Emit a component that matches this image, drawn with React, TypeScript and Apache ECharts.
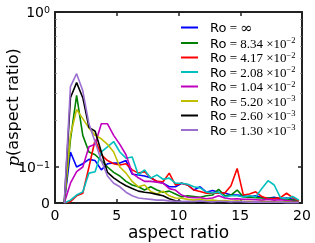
import React, { useEffect, useRef } from "react";
import * as echarts from "echarts";

// bin centres (aspect ratio)
const binCenters = [
  0.75, 1.25, 1.75, 2.25, 2.75, 3.25, 3.75, 4.25, 4.75, 5.25, 5.75, 6.25, 6.75,
  7.25, 7.75, 8.25, 8.75, 9.25, 9.75, 10.25, 10.75, 11.25, 11.75, 12.25, 12.75,
  13.25, 13.75, 14.25, 14.75, 15.25, 15.75, 16.25, 16.75, 17.25, 17.75, 18.25,
  18.75, 19.25, 19.75,
];

const pInf = [0, 0.125, 0.1, 0.105, 0.112, 0.11, 0.092, 0.105, 0.106, 0.106, 0.11, 0.08, 0.078, 0.075, 0.07, 0.06, 0.055, 0.045, 0.045, 0.055, 0.05, 0.036, 0.045, 0.03, 0.035, 0.03, 0.028, 0.022, 0.022, 0.02, 0.017, 0.02, 0.015, 0.013, 0.016, 0.012, 0.014, 0.01, 0.004];
const p834e2 = [0, 0.15, 0.29, 0.16, 0.125, 0.12, 0.11, 0.1, 0.085, 0.075, 0.06, 0.05, 0.045, 0.036, 0.045, 0.036, 0.03, 0.033, 0.025, 0.017, 0.02, 0.018, 0.016, 0.02, 0.022, 0.038, 0.02, 0.022, 0.036, 0.017, 0.016, 0.015, 0.014, 0.014, 0.013, 0.012, 0.01, 0.008, 0.004];
const p417e2 = [0, 0.004, 0.02, 0.027, 0.1, 0.15, 0.12, 0.11, 0.105, 0.103, 0.105, 0.092, 0.083, 0.087, 0.07, 0.06, 0.059, 0.083, 0.05, 0.055, 0.05, 0.036, 0.032, 0.027, 0.027, 0.027, 0.028, 0.048, 0.096, 0.022, 0.025, 0.031, 0.018, 0.012, 0.012, 0.015, 0.027, 0.015, 0.006];
const p208e2 = [0, 0.008, 0.022, 0.031, 0.083, 0.087, 0.125, 0.135, 0.146, 0.125, 0.114, 0.116, 0.078, 0.092, 0.069, 0.078, 0.066, 0.069, 0.055, 0.055, 0.052, 0.045, 0.042, 0.031, 0.028, 0.03, 0.017, 0.02, 0.02, 0.017, 0.02, 0.017, 0.04, 0.062, 0.05, 0.015, 0.012, 0.018, 0.008];
const p104e2 = [0, 0.055, 0.087, 0.1, 0.135, 0.14, 0.19, 0.19, 0.16, 0.14, 0.12, 0.083, 0.07, 0.06, 0.06, 0.058, 0.055, 0.04, 0.036, 0.022, 0.016, 0.015, 0.015, 0.012, 0.014, 0.02, 0.014, 0.011, 0.012, 0.01, 0.01, 0.009, 0.008, 0.01, 0.008, 0.009, 0.007, 0.005, 0.003];
const p520e3 = [0, 0.16, 0.235, 0.205, 0.178, 0.16, 0.152, 0.14, 0.125, 0.1, 0.083, 0.06, 0.045, 0.05, 0.032, 0.025, 0.033, 0.02, 0.014, 0.013, 0.01, 0.008, 0.01, 0.007, 0.008, 0.006, 0.007, 0.005, 0.006, 0.004, 0.004, 0.003, 0.004, 0.003, 0.003, 0.002, 0.003, 0.002, 0.002];
const p260e3 = [0, 0.28, 0.35, 0.28, 0.18, 0.17, 0.125, 0.085, 0.07, 0.058, 0.048, 0.04, 0.033, 0.03, 0.028, 0.024, 0.02, 0.012, 0.006, 0.004, 0.003, 0.003, 0.002, 0.002, 0.002, 0.002, 0.001, 0.002, 0.001, 0.001, 0.001, 0.001, 0.001, 0.001, 0.001, 0.001, 0.001, 0.001, 0.001];
const p130e3 = [0, 0.33, 0.4, 0.31, 0.19, 0.145, 0.11, 0.075, 0.055, 0.045, 0.03, 0.02, 0.014, 0.012, 0.01, 0.008, 0.008, 0.006, 0.005, 0.004, 0.005, 0.004, 0.006, 0.004, 0.003, 0.005, 0.004, 0.003, 0.004, 0.003, 0.002, 0.003, 0.002, 0.002, 0.002, 0.002, 0.001, 0.001, 0.001];

const roMantissa = ["∞", "8.34", "4.17", "2.08", "1.04", "5.20", "2.60", "1.30"];
const roExponent = ["", "−2", "−2", "−2", "−2", "−3", "−3", "−3"];
const seriesValues = [pInf, p834e2, p417e2, p208e2, p104e2, p520e3, p260e3, p130e3];
const seriesColors = ["#0000ff", "#008000", "#ff0000", "#00bfbf", "#bf00bf", "#bfbf00", "#000000", "#9b6fd0"];

const xTicks = [0, 5, 10, 15, 20];
const yTickLabels = ["0", "10^-1", "10^0"];

// symlog-like y scale: linear on [0, 0.1], logarithmic above
const LIN = 36 / 155;
const fy = (v: number) => (v <= 0.1 ? (LIN * v) / 0.1 : LIN + Math.log10(v / 0.1));
const yMajor = [0, LIN, LIN + 1];
const yMinor = [2, 3, 4, 5, 6, 7, 8, 9].map((k) => LIN + Math.log10(k));

const AX = "#222";

export default function App() {
  const ref = useRef<HTMLDivElement>(null);
  useEffect(() => {
    if (!ref.current) return;
    const chart = echarts.init(ref.current, undefined, { renderer: "svg" });
    const names = roMantissa.map((m, i) => (roExponent[i] ? `Ro = ${m} ×10^${roExponent[i]}` : `Ro = ${m}`));
    const yLabelFmt = (v: number) => {
      const i = yMajor.findIndex((t) => Math.abs(t - v) < 1e-6);
      const s = yTickLabels[i] ?? "";
      if (s.startsWith("10^")) return `{b|10}{s|${s.slice(3).replace("-", "−")}}`;
      return `{b|${s}}`;
    };
    const axisBase = {
      min: 0,
      axisLine: { show: true, onZero: false, lineStyle: { color: AX, width: 2 } },
      splitLine: { show: false },
    };
    const minorAxis = (position: string) => ({
      type: "value",
      min: 0,
      max: LIN + 1,
      position,
      axisLine: { show: false, onZero: false },
      splitLine: { show: false },
      axisTick: { show: true, inside: true, length: 2, customValues: yMinor, lineStyle: { color: "#888", width: 0.8 } },
      axisLabel: { show: false },
    });
    chart.setOption({
      animation: false,
      grid: { left: 55, top: 12, width: 247, height: 191, outerBoundsMode: "none", containLabel: false },
      xAxis: [
        {
          ...axisBase,
          type: "value",
          max: 20,
          interval: 5,
          position: "bottom",
          axisTick: { show: true, inside: true, length: 4, lineStyle: { color: AX, width: 1.5 } },
          axisLabel: { color: "#000", fontSize: 14, fontFamily: "DejaVu Sans", margin: 5, customValues: xTicks },
          name: "aspect ratio",
          nameLocation: "middle",
          nameGap: 20,
          nameMoveOverlap: false,
          nameTextStyle: { color: "#000", fontSize: 17, fontFamily: "DejaVu Sans", verticalAlign: "top" },
        },
        {
          ...axisBase,
          type: "value",
          max: 20,
          interval: 5,
          position: "top",
          axisTick: { show: true, inside: true, length: 4, lineStyle: { color: AX, width: 1.5 } },
          axisLabel: { show: false },
        },
      ],
      yAxis: [
        {
          ...axisBase,
          type: "value",
          max: LIN + 1,
          position: "left",
          axisTick: { show: true, inside: true, length: 4, customValues: yMajor, lineStyle: { color: AX, width: 1.5 } },
          axisLabel: {
            customValues: yMajor,
            formatter: yLabelFmt,
            margin: 5,
            rich: {
              b: { fontSize: 14, fontFamily: "DejaVu Sans", color: "#000", lineHeight: 16 },
              s: { fontSize: 9.5, fontFamily: "DejaVu Sans", color: "#000", verticalAlign: "top", lineHeight: 9 },
            },
          },
          name: "{i|p}(aspect ratio)",
          nameLocation: "middle",
          nameGap: 34,
          nameMoveOverlap: false,
          nameTextStyle: {
            rich: {
              i: { fontSize: 17, fontFamily: "DejaVu Serif", fontStyle: "italic", color: "#000" },
            },
            fontSize: 16,
            fontFamily: "DejaVu Sans",
            color: "#000",
          },
        },
        {
          ...axisBase,
          type: "value",
          max: LIN + 1,
          position: "right",
          axisTick: { show: true, inside: true, length: 4, customValues: yMajor, lineStyle: { color: AX, width: 1.5 } },
          axisLabel: { show: false },
        },
        minorAxis("left"),
        minorAxis("right"),
      ],
      legend: {
        orient: "vertical",
        left: 181,
        top: 20,
        itemWidth: 17,
        itemHeight: 2,
        itemGap: 0.5,
        icon: "rect",
        padding: 0,
        data: names,
        formatter: (name: string) => {
          const i = names.indexOf(name);
          const e = roExponent[i];
          return e
            ? `{sp|}{r|Ro}{m| = ${roMantissa[i]} ×10}{e|${e}}`
            : `{sp|}{r|Ro}{m| = }{inf|∞}`;
        },
        textStyle: {
          rich: {
            sp: { width: 7, lineHeight: 15 },
            r: { fontSize: 13, fontFamily: "DejaVu Sans", color: "#000", lineHeight: 15 },
            m: { fontSize: 13, fontFamily: "Liberation Serif", color: "#000", lineHeight: 15 },
            inf: { fontSize: 15, fontFamily: "DejaVu Serif", color: "#000", lineHeight: 15 },
            e: { fontSize: 8.5, fontFamily: "Liberation Serif", color: "#000", verticalAlign: "top", lineHeight: 8 },
          },
        },
      },
      series: seriesValues.map((vals, i) => ({
        name: names[i],
        type: "line",
        xAxisIndex: 0,
        yAxisIndex: 0,
        showSymbol: false,
        symbol: "none",
        color: seriesColors[i],
        lineStyle: { width: 1.6, color: seriesColors[i] },
        data: vals.map((v, k) => [binCenters[k], fy(v)]),
      })),
    });
    return () => chart.dispose();
  }, []);
  return <div ref={ref} style={{ position: "fixed", left: 0, top: 0, width: 315, height: 243 }} />;
}
